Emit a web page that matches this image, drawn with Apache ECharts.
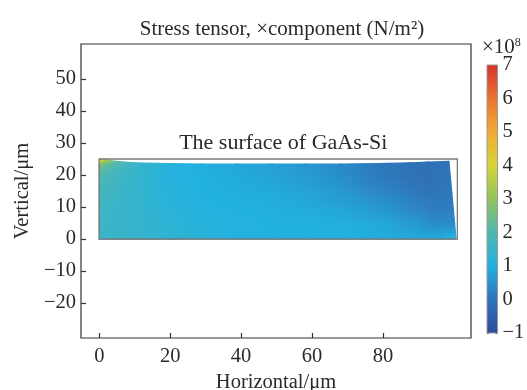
<!DOCTYPE html>
<html>
<head>
<meta charset="utf-8">
<script src="https://cdn.jsdelivr.net/npm/echarts@6/dist/echarts.min.js"></script>
<style>
  html, body { margin: 0; padding: 0; background: #fff; }
  #chart { width: 527px; height: 390px; }
</style>
</head>
<body>
<div id="chart"></div>
<script>
// Mesh node positions of the GaAs-Si block (µm, undeformed)
const xNodes = [0, 2, 5, 10, 20, 30, 40, 50, 60, 70, 80, 90, 95, 101];
const yNodes = [0, 5, 10, 15, 20, 23, 25];

// Deformed outline: top surface height at each x node, right edge position at each y node (µm)
const surfaceTop = [25, 24.6, 24.2, 23.8, 23.5, 23.4, 23.4, 23.4, 23.4, 23.4, 23.5, 23.8, 24.0, 24.2];
const rightEdge = [100.6, 100.2, 99.8, 99.4, 99.0, 98.75, 98.6];

// σxx at each node (×10^8 N/m²); one row per y node, bottom to top
const stressRows = [
  [1.55, 1.50, 1.48, 1.42, 1.30, 1.15, 1.05, 1.00, 1.00, 1.00, 0.95, 0.90, 0.90, 1.20],
  [1.60, 1.55, 1.50, 1.42, 1.25, 1.10, 1.05, 1.00, 1.00, 0.95, 0.85, 0.60, 0.40, 0.40],
  [1.65, 1.60, 1.52, 1.42, 1.20, 1.05, 1.00, 0.95, 0.90, 0.80, 0.60, 0.30, 0.15, 0.15],
  [1.75, 1.70, 1.58, 1.42, 1.15, 1.00, 0.95, 0.90, 0.80, 0.60, 0.35, 0.10, 0.00, 0.05],
  [2.00, 1.85, 1.68, 1.45, 1.10, 1.00, 0.90, 0.80, 0.65, 0.45, 0.15, -0.05, -0.10, 0.00],
  [2.60, 2.20, 1.85, 1.50, 1.10, 0.95, 0.85, 0.75, 0.60, 0.40, 0.10, -0.05, -0.10, 0.00],
  [4.80, 3.20, 2.20, 1.60, 1.10, 0.95, 0.85, 0.70, 0.55, 0.35, 0.10, -0.05, -0.10, 0.00]
];

// Axis tick labels
const xTicks = [0, 20, 40, 60, 80];
const yTicks = [-20, -10, 0, 10, 20, 30, 40, 50];
const colorRange = [-1, 7];

// Rainbow colour table for the stress scale
const PALETTE = ['#2b4c9b', '#2f74b9', '#21b1e1', '#50b7b0', '#92c35e', '#d6d538', '#f1aa36', '#e97430', '#d8322b'];
const PAL_MIN = -1, PAL_MAX = 7;

const FONT = 'Liberation Serif';
const TEXT = '#2a2a2a';

function hexToRgb(h) {
  return [parseInt(h.slice(1, 3), 16), parseInt(h.slice(3, 5), 16), parseInt(h.slice(5, 7), 16)];
}
const PAL_RGB = PALETTE.map(hexToRgb);
function colorOf(v) {
  const t = Math.max(0, Math.min(1, (v - PAL_MIN) / (PAL_MAX - PAL_MIN))) * (PALETTE.length - 1);
  const k = Math.min(PALETTE.length - 2, Math.floor(t));
  const f = t - k;
  const a = PAL_RGB[k], b = PAL_RGB[k + 1];
  return 'rgb(' + a.map((c, n) => Math.round(c + (b[n] - c) * f)).join(',') + ')';
}
const paletteStep = (PAL_MAX - PAL_MIN) / (PALETTE.length - 1);

// Deformed position of mesh node (i, j)
const W = xNodes[xNodes.length - 1], H = yNodes[yNodes.length - 1];
function nodePos(i, j) {
  return [xNodes[i] * rightEdge[j] / W, yNodes[j] * surfaceTop[i] / H];
}

// A triangle shaded linearly between its three nodal values
function shadedTriangle(pts, vals) {
  const [p0, p1, p2] = pts, [v0, v1, v2] = vals;
  const dx1 = p1[0] - p0[0], dy1 = p1[1] - p0[1], dv1 = v1 - v0;
  const dx2 = p2[0] - p0[0], dy2 = p2[1] - p0[1], dv2 = v2 - v0;
  const det = dx1 * dy2 - dx2 * dy1;
  let fill;
  const vmin = Math.min(v0, v1, v2), vmax = Math.max(v0, v1, v2);
  if (Math.abs(det) < 1e-9 || vmax - vmin < 1e-6) {
    fill = colorOf(v0);
  } else {
    const a = (dv1 * dy2 - dv2 * dy1) / det;
    const b = (dx1 * dv2 - dx2 * dv1) / det;
    const g2 = a * a + b * b;
    const s = [p0[0] + (vmin - v0) * a / g2, p0[1] + (vmin - v0) * b / g2];
    const e = [p0[0] + (vmax - v0) * a / g2, p0[1] + (vmax - v0) * b / g2];
    const stops = [{ offset: 0, color: colorOf(vmin) }];
    for (let k = 0; k < PALETTE.length; k++) {
      const vk = PAL_MIN + k * paletteStep;
      if (vk > vmin && vk < vmax) stops.push({ offset: (vk - vmin) / (vmax - vmin), color: PALETTE[k] });
    }
    stops.push({ offset: 1, color: colorOf(vmax) });
    fill = new echarts.graphic.LinearGradient(s[0], s[1], e[0], e[1], stops, true);
  }
  return {
    type: 'polygon',
    shape: { points: pts },
    style: { fill: fill, stroke: fill, lineWidth: 1.4, lineJoin: 'round' },
    silent: true
  };
}

// One data item per mesh cell
const cells = [];
for (let j = 0; j < yNodes.length - 1; j++) {
  for (let i = 0; i < xNodes.length - 1; i++) cells.push([i, j]);
}

const minus = v => String(v).replace('-', '\u2212');

const chart = echarts.init(document.getElementById('chart'), null, { renderer: 'canvas' });
chart.setOption({
  animation: false,
  backgroundColor: '#fff',
  title: {
    text: 'Stress tensor, \u00d7component (N/m\u00b2)',
    left: 277, top: 14, textAlign: 'center',
    textStyle: { fontFamily: FONT, fontSize: 21, fontWeight: 'normal', color: TEXT }
  },
  grid: [
    { left: 81, right: 56, top: 44, bottom: 52, outerBoundsMode: 'none', show: true, borderColor: '#333', borderWidth: 1.2, backgroundColor: 'transparent' },
    { left: 487, width: 10.5, top: 65, height: 268, outerBoundsMode: 'none' }
  ],
  xAxis: [
    {
      type: 'value', gridIndex: 0, min: -5.15, max: 104.85,
      name: 'Horizontal/\u03bcm', nameLocation: 'middle', nameGap: 31,
      nameTextStyle: { fontFamily: FONT, fontSize: 20.5, color: TEXT },
      axisLine: { show: false, onZero: false },
      axisTick: { inside: true, length: 5, customValues: xTicks, lineStyle: { color: '#333', width: 1.2 } },
      axisLabel: { customValues: xTicks, fontFamily: FONT, fontSize: 20.5, color: TEXT, margin: 8, formatter: minus },
      splitLine: { show: false }
    },
    { type: 'value', gridIndex: 1, min: 0, max: 1, show: false }
  ],
  yAxis: [
    {
      type: 'value', gridIndex: 0, min: -30.94, max: 60.94,
      name: 'Vertical/\u03bcm', nameLocation: 'middle', nameGap: 47,
      nameTextStyle: { fontFamily: FONT, fontSize: 20.5, color: TEXT },
      axisLine: { show: false, onZero: false },
      axisTick: { inside: true, length: 5, customValues: yTicks, lineStyle: { color: '#333', width: 1.2 } },
      axisLabel: { customValues: yTicks, fontFamily: FONT, fontSize: 20.5, color: TEXT, margin: 5, formatter: minus },
      splitLine: { show: false }
    },
    {
      type: 'value', gridIndex: 1, min: colorRange[0], max: colorRange[1], interval: 1, position: 'right',
      axisLine: { show: false, onZero: false },
      axisTick: { inside: true, length: 2, lineStyle: { color: '#555' } },
      axisLabel: { fontFamily: FONT, fontSize: 20.5, color: TEXT, margin: 5, formatter: minus },
      splitLine: { show: false }
    },
    {
      type: 'value', gridIndex: 1, min: colorRange[0], max: colorRange[1], interval: 1, position: 'left',
      axisLine: { show: false, onZero: false },
      axisTick: { inside: true, length: 2, lineStyle: { color: '#555' } },
      axisLabel: { show: false },
      splitLine: { show: false }
    }
  ],
  graphic: [
    {
      type: 'text', left: 482, top: 37,
      style: {
        text: '{a|\u00d710}{b|8}',
        rich: {
          a: { fontFamily: FONT, fontSize: 21, fill: TEXT },
          b: { fontFamily: FONT, fontSize: 12, fill: TEXT, verticalAlign: 'top', padding: [0, 0, 9, 0] }
        }
      }
    }
  ],
  series: [
    {
      // stress field over the deformed block
      type: 'custom', xAxisIndex: 0, yAxisIndex: 0, coordinateSystem: 'cartesian2d',
      data: cells, silent: true, z: 2,
      renderItem: function (params, api) {
        const i = api.value(0), j = api.value(1);
        const ids = [[i, j], [i + 1, j], [i + 1, j + 1], [i, j + 1]];
        const px = ids.map(([a, b]) => api.coord(nodePos(a, b)));
        const vs = ids.map(([a, b]) => stressRows[b][a]);
        return {
          type: 'group',
          children: [
            shadedTriangle([px[0], px[1], px[2]], [vs[0], vs[1], vs[2]]),
            shadedTriangle([px[0], px[2], px[3]], [vs[0], vs[2], vs[3]])
          ]
        };
      }
    },
    {
      // undeformed outline and its label
      type: 'custom', xAxisIndex: 0, yAxisIndex: 0, coordinateSystem: 'cartesian2d',
      data: [[0, 0, W, H]], silent: true, z: 3,
      renderItem: function (params, api) {
        const p0 = api.coord([api.value(0), api.value(1)]);
        const p1 = api.coord([api.value(2), api.value(3)]);
        return {
          type: 'group',
          children: [
            {
              type: 'rect',
              shape: { x: p0[0], y: p1[1], width: p1[0] - p0[0], height: p0[1] - p1[1] },
              style: { fill: 'none', stroke: '#7a7a7a', lineWidth: 1.3 }
            },
            {
              type: 'text',
              x: (p0[0] + p1[0]) / 2 + 5, y: p1[1] - 16,
              style: {
                text: 'The surface of GaAs-Si', fontFamily: FONT, fontSize: 22, fill: TEXT,
                textAlign: 'center', textVerticalAlign: 'middle'
              }
            }
          ]
        };
      }
    },
    {
      // colour scale bar
      type: 'custom', xAxisIndex: 1, yAxisIndex: 1, coordinateSystem: 'cartesian2d',
      data: [[0, colorRange[0], 1, colorRange[1]]], silent: true, z: 2,
      renderItem: function (params, api) {
        const pb = api.coord([api.value(0), api.value(1)]);
        const pt = api.coord([api.value(2), api.value(3)]);
        const stops = PALETTE.map((c, k) => ({ offset: k / (PALETTE.length - 1), color: c }));
        return {
          type: 'rect',
          shape: { x: pb[0], y: pt[1], width: pt[0] - pb[0], height: pb[1] - pt[1] },
          style: {
            fill: new echarts.graphic.LinearGradient(0, pb[1], 0, pt[1], stops, true),
            stroke: '#9a9a9a', lineWidth: 1
          }
        };
      }
    }
  ]
});
</script>
</body>
</html>
